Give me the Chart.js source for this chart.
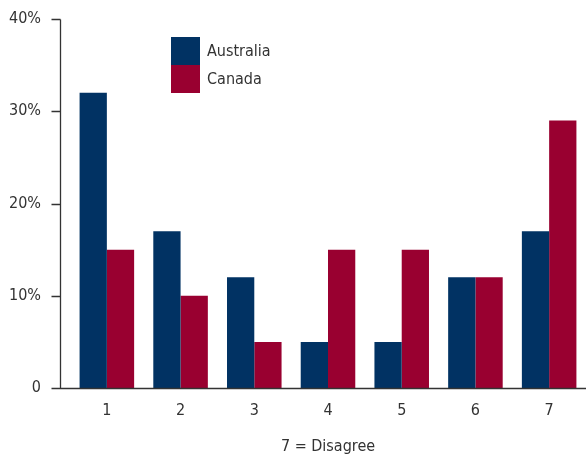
<!DOCTYPE html>
<html>
<head>
<meta charset="utf-8">
<script src="https://cdn.jsdelivr.net/npm/chart.js@4"></script>
<style>
  html, body { margin: 0; padding: 0; background: #fff; }
  #wrap { width: 586px; height: 455px; }
</style>
</head>
<body>
<div id="wrap"><canvas id="chart" width="586" height="455"></canvas></div>
<script>
var categories = ['1', '2', '3', '4', '5', '6', '7'];
var australia = [32, 17, 12, 5, 5, 12, 17];
var canada = [15, 10, 5, 15, 15, 12, 29];
var yTickLabels = ['0', '10%', '20%', '30%', '40%'];
var xTitle = '7 = Disagree';

var FONT = "'Liberation Sans Narrow', 'DejaVu Sans Condensed', 'Roboto', sans-serif";
var TEXT = '#333333';

// axes drawn by hand: y line sits 10px left of the first category band
var axisLines = {
    id: 'axisLines',
    afterDraw: function (chart) {
        var ctx = chart.ctx, area = chart.chartArea, y = chart.scales.y;
        var ax = area.left - 9.5;
        var y0 = Math.round(y.getPixelForValue(0)) + 0.5;
        ctx.save();
        ctx.strokeStyle = '#333';
        ctx.lineWidth = 1.3;
        ctx.beginPath();
        ctx.moveTo(ax, Math.round(y.getPixelForValue(40)) + 0.5);
        ctx.lineTo(ax, y0);
        y.ticks.forEach(function (t) {
            if (t.value === 0) return;
            var py = Math.round(y.getPixelForValue(t.value)) + 0.5;
            ctx.moveTo(ax - 9, py);
            ctx.lineTo(ax, py);
        });
        ctx.moveTo(ax - 9, y0);
        ctx.lineTo(chart.width, y0);
        ctx.stroke();
        ctx.restore();
    }
};

// stacked square swatches, no gap between them
var boxLegend = {
    id: 'boxLegend',
    afterDraw: function (chart) {
        var ctx = chart.ctx;
        var left = 171, top = 37, size = 28;
        ctx.save();
        ctx.font = '16px ' + FONT;
        ctx.textBaseline = 'middle';
        chart.data.datasets.forEach(function (ds, i) {
            ctx.fillStyle = ds.backgroundColor;
            ctx.fillRect(left, top + i * size, size + 1, size);
            ctx.fillStyle = TEXT;
            ctx.fillText(ds.label, left + size + 8, top + i * size + size / 2 + 1);
        });
        ctx.restore();
    }
};

new Chart(document.getElementById('chart'), {
    type: 'bar',
    data: {
        labels: categories,
        datasets: [
            {label: 'Australia', data: australia, backgroundColor: '#013263'},
            {label: 'Canada', data: canada, backgroundColor: '#990030'}
        ]
    },
    options: {
        responsive: false,
        animation: false,
        layout: {padding: {top: 19, right: -1, left: 0, bottom: 0}},
        datasets: {bar: {barPercentage: 1, categoryPercentage: 0.74}},
        plugins: {legend: {display: false}, tooltip: {enabled: false}},
        scales: {
            x: {
                grid: {display: false, drawTicks: false},
                border: {display: false},
                ticks: {color: TEXT, font: {family: FONT, size: 16}, padding: 13},
                title: {display: true, text: xTitle, color: TEXT, font: {family: FONT, size: 16}, padding: {top: 0, bottom: -1}},
                afterFit: function (s) { s.height = 67; }
            },
            y: {
                min: 0, max: 40,
                grid: {display: false, drawTicks: true, tickLength: 26},
                border: {display: false},
                ticks: {
                    stepSize: 10, color: TEXT, font: {family: FONT, size: 16}, padding: 3,
                    callback: function (v) { return yTickLabels[v / 10]; }
                },
                afterFit: function (s) { s.width = 70; }
            }
        }
    },
    plugins: [axisLines, boxLegend]
});
</script>
</body>
</html>
